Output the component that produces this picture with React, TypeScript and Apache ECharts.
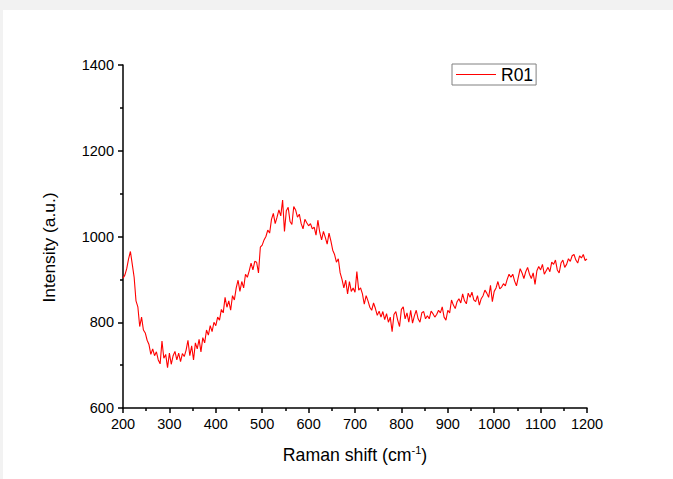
import React, { useEffect, useRef } from "react";
import * as echarts from "echarts";

const SERIES_NAME = "R01";
const X_START = 200;
const X_STEP = 4;
const X_TICKS = [200, 300, 400, 500, 600, 700, 800, 900, 1000, 1100, 1200];
const Y_TICKS = [600, 800, 1000, 1200, 1400];

const intensity: number[] = [
  // 200-296
  903, 910, 925, 948, 965, 935, 905, 850, 836, 790, 812, 782, 775, 758, 748, 725, 738, 722, 731, 712, 703, 756, 716, 725, 694,
  // 300-396
  728, 702, 722, 732, 712, 728, 708, 727, 720, 735, 758, 722, 745, 712, 752, 738, 760, 731, 764, 752, 782, 770, 792, 778, 800,
  // 400-496
  792, 812, 805, 830, 822, 858, 835, 850, 828, 862, 852, 880, 898, 872, 895, 880, 912, 905, 920, 938, 922, 942, 940, 915, 975,
  // 500-596
  980, 992, 1000, 1015, 1008, 1040, 1054, 1030, 1045, 1062, 1048, 1085, 1012, 1060, 1068, 1035, 1028, 1070, 1062, 1045, 1052, 1030, 1018, 1040, 1032,
  // 600-696
  1025, 1030, 1018, 1022, 1003, 1038, 1010, 992, 1012, 998, 982, 1008, 990, 968, 958, 940, 948, 915, 900, 880, 898, 866, 895, 872, 880,
  // 700-796
  870, 918, 875, 880, 866, 842, 862, 850, 835, 828, 845, 832, 816, 826, 812, 825, 806, 820, 800, 812, 778, 818, 825, 805, 790,
  // 800-896
  830, 836, 808, 822, 800, 828, 798, 815, 828, 808, 800, 822, 825, 808, 815, 808, 826, 820, 812, 818, 828, 822, 836, 812, 805,
  // 900-996
  828, 822, 852, 840, 832, 848, 855, 845, 866, 850, 843, 868, 858, 870, 852, 848, 862, 840, 855, 862, 875, 868, 858, 886, 848,
  // 1000-1096
  872, 880, 895, 878, 882, 890, 885, 900, 912, 905, 912, 896, 885, 905, 925, 915, 902, 918, 928, 912, 902, 915, 888, 920, 930,
  // 1100-1200
  922, 935, 912, 920, 928, 918, 940, 935, 945, 922, 915, 938, 945, 928, 935, 948, 942, 955, 958, 945, 938, 955, 950, 958, 944, 948,
];

const FONT = "'Liberation Sans', Arial, sans-serif";

export default function App() {
  const ref = useRef<HTMLDivElement>(null);
  useEffect(() => {
    if (!ref.current) return;
    const chart = echarts.init(ref.current, undefined, { renderer: "svg" });
    const data = intensity.map((v, i) => [X_START + i * X_STEP, v]);
    const plain = (v: number) => String(v);
    chart.setOption({
      animation: false,
      backgroundColor: "#ffffff",
      grid: { left: 120, right: 86, top: 55, bottom: 71, containLabel: false },
      legend: {
        data: [SERIES_NAME],
        icon: "rect",
        left: 449,
        top: 54,
        orient: "vertical",
        borderColor: "#808080",
        borderWidth: 1,
        borderRadius: 0,
        padding: [1, 3, 1, 4],
        itemWidth: 40,
        itemHeight: 1.2,
        itemGap: 4,
        textStyle: { fontFamily: FONT, fontSize: 17.5, color: "#000", lineHeight: 19 },
      },
      xAxis: {
        type: "value",
        min: X_TICKS[0],
        max: X_TICKS[X_TICKS.length - 1],
        interval: 100,
        name: "{a|Raman shift (cm}{b|-1}{a|)}",
        nameLocation: "middle",
        nameGap: 36,
        nameTextStyle: {
          rich: {
            a: { fontFamily: FONT, fontSize: 17.7, color: "#000", lineHeight: 22 },
            b: { fontFamily: FONT, fontSize: 11, color: "#000", lineHeight: 22, padding: [0, 0, 10, 0] },
          },
        },
        axisLine: { show: true, lineStyle: { color: "#000", width: 1.5 } },
        axisTick: { show: true, inside: false, length: 5, lineStyle: { color: "#000", width: 1.5 } },
        minorTick: { show: true, splitNumber: 2, length: 3, lineStyle: { color: "#000", width: 1.5 } },
        axisLabel: { fontFamily: FONT, fontSize: 14.5, color: "#000", margin: 8, formatter: plain },
        splitLine: { show: false },
      },
      yAxis: {
        type: "value",
        min: Y_TICKS[0],
        max: Y_TICKS[Y_TICKS.length - 1],
        interval: 200,
        name: "Intensity (a.u.)",
        nameLocation: "middle",
        nameGap: 66,
        nameTextStyle: { fontFamily: FONT, fontSize: 17.4, color: "#000", padding: [0, 22, 0, 0] },
        axisLine: { show: true, lineStyle: { color: "#000", width: 1.5 } },
        axisTick: { show: true, inside: false, length: 5, lineStyle: { color: "#000", width: 1.5 } },
        minorTick: { show: true, splitNumber: 2, length: 3, lineStyle: { color: "#000", width: 1.5 } },
        axisLabel: { fontFamily: FONT, fontSize: 14.5, color: "#000", margin: 9, formatter: plain },
        splitLine: { show: false },
      },
      series: [
        {
          name: SERIES_NAME,
          type: "line",
          data,
          symbol: "none",
          showSymbol: false,
          lineStyle: { color: "#ff0000", width: 1.1 },
          itemStyle: { color: "#ff0000" },
        },
      ],
    });
    return () => chart.dispose();
  }, []);
  return (
    <div style={{ position: "fixed", left: 0, top: 0, width: 673, height: 479, background: "#f2f2f2" }}>
      <div ref={ref} style={{ position: "absolute", left: 3, top: 10, width: 670, height: 469 }} />
    </div>
  );
}
